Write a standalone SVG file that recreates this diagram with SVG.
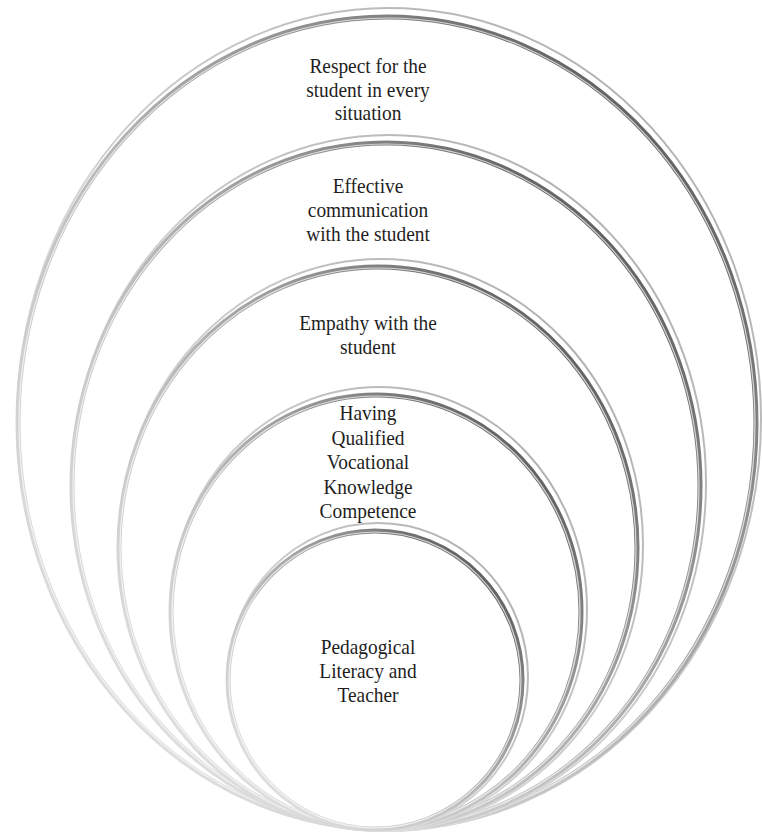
<svg xmlns="http://www.w3.org/2000/svg" width="762" height="835" viewBox="0 0 762 835">
<defs>
<linearGradient id="ring" x1="0" y1="1" x2="1" y2="0">
<stop offset="0" stop-color="#ececec"/>
<stop offset="0.4" stop-color="#c4c4c4"/>
<stop offset="0.7" stop-color="#8e8e8e"/>
<stop offset="1" stop-color="#3c3c3c"/>
</linearGradient>
<linearGradient id="ghost" x1="0" y1="1" x2="1" y2="0">
<stop offset="0" stop-color="#f4f4f4"/>
<stop offset="1" stop-color="#a8a8a8"/>
</linearGradient>
<filter id="soft" x="-5%" y="-5%" width="110%" height="110%">
<feGaussianBlur stdDeviation="0.7"/>
</filter>
</defs>
<style>
.bg{fill:#ffffff}
.ghost{fill:#ffffff;stroke:url(#ghost);stroke-width:2}
.ring{fill:#ffffff;stroke:url(#ring);stroke-width:5}
.hi{fill:none;stroke:#ffffff;stroke-width:1.2;opacity:0.7}
.lbl{font-family:"Liberation Serif","Times New Roman",serif;font-size:22px;fill:#1e1e1e;text-anchor:middle}
</style>
<rect class="bg" x="0" y="0" width="762" height="835"/>
<g id="node-respect">
<ellipse class="ghost" cx="389" cy="419" rx="372" ry="411"/>
<ellipse class="ring" cx="387" cy="423" rx="369" ry="406"/>
<ellipse class="hi" cx="387" cy="423" rx="368" ry="405"/>
<text class="lbl" transform="matrix(0.88 0 0 1 44.16 0)"><tspan x="368" y="73">Respect for the</tspan><tspan x="368" y="97">student in every</tspan><tspan x="368" y="120">situation</tspan></text>
</g>
<g id="node-communication">
<ellipse class="ghost" cx="389" cy="483" rx="317" ry="348"/>
<ellipse class="ring" cx="386" cy="486" rx="314" ry="343"/>
<ellipse class="hi" cx="386" cy="486" rx="313" ry="342"/>
<text class="lbl" transform="matrix(0.88 0 0 1 44.16 0)"><tspan x="368" y="193">Effective</tspan><tspan x="368" y="217">communication</tspan><tspan x="368" y="241">with the student</tspan></text>
</g>
<g id="node-empathy">
<ellipse class="ghost" cx="381" cy="545" rx="262" ry="286"/>
<ellipse class="ring" cx="378" cy="548" rx="259" ry="281"/>
<ellipse class="hi" cx="378" cy="548" rx="258" ry="280"/>
<text class="lbl" transform="matrix(0.88 0 0 1 44.16 0)"><tspan x="368" y="330">Empathy with the</tspan><tspan x="368" y="354">student</tspan></text>
</g>
<g id="node-vocational">
<ellipse class="ghost" cx="379" cy="609" rx="208" ry="222"/>
<ellipse class="ring" cx="376" cy="612" rx="205" ry="217"/>
<ellipse class="hi" cx="376" cy="612" rx="204" ry="216"/>
<text class="lbl" transform="matrix(0.88 0 0 1 44.16 0)"><tspan x="368" y="420">Having</tspan><tspan x="368" y="445">Qualified</tspan><tspan x="368" y="469">Vocational</tspan><tspan x="368" y="494">Knowledge</tspan><tspan x="368" y="518">Competence</tspan></text>
</g>
<g id="node-pedagogical">
<ellipse class="ghost" cx="378" cy="677" rx="150" ry="154"/>
<ellipse class="ring" cx="375" cy="680" rx="147" ry="149"/>
<ellipse class="hi" cx="375" cy="680" rx="146" ry="148"/>
<text class="lbl" transform="matrix(0.88 0 0 1 44.16 0)"><tspan x="368" y="654">Pedagogical</tspan><tspan x="368" y="678">Literacy and</tspan><tspan x="368" y="702">Teacher</tspan></text>
</g>
<g id="connectors"/>
</svg>
